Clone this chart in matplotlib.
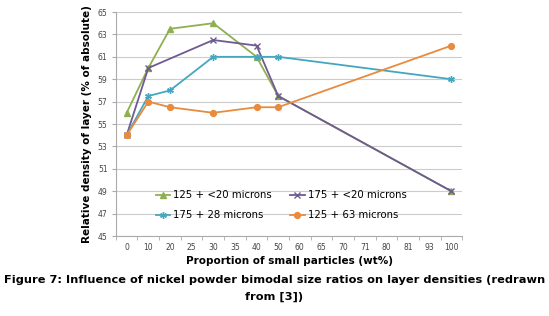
import matplotlib.pyplot as plt
import numpy as np
from matplotlib.ticker import FixedLocator

# category axis (Excel style line chart, gaps are bridged)
categories = ['0', '10', '20', '25', '30', '35', '40', '50', '60', '65',
              '70', '71', '80', '81', '93', '100']

# category index of every measured point
green_idx = [0, 1, 2, 4, 6, 7, 15]
green_val = [56, 60, 63.5, 64, 61, 57.5, 49]

purple_idx = [0, 1, 4, 6, 7, 15]
purple_val = [54, 60, 62.5, 62, 57.5, 49]

cyan_idx = [0, 1, 2, 4, 6, 7, 15]
cyan_val = [54, 57.5, 58, 61, 61, 61, 59]

orange_idx = [0, 1, 2, 4, 6, 7, 15]
orange_val = [54, 57, 56.5, 56, 56.5, 56.5, 62]

labels = ['125 + <20 microns', '175 + <20 microns', '175 + 28 microns', '125 + 63 microns']
colors = ['#8fb050', '#6f5a93', '#45a7bf', '#e88b3e']

fig = plt.figure(figsize=(5.49, 3.16), dpi=100)
ax = fig.add_axes([0.211, 0.253, 0.631, 0.709])

ax.plot(green_idx, green_val, color=colors[0], marker='^', ms=4.2, lw=1.3, label=labels[0])
ax.plot(purple_idx, purple_val, color=colors[1], marker='x', ms=4.2, mew=1.0, lw=1.3, label=labels[1])
ax.plot(cyan_idx, cyan_val, color=colors[2], marker=(6, 2, 0), ms=4.8, mew=1.0, lw=1.3, label=labels[2])
ax.plot(orange_idx, orange_val, color=colors[3], marker='o', ms=4.2, lw=1.3, label=labels[3])

ax.set_xlim(-0.5, len(categories) - 0.5)
ax.set_ylim(45, 65)
ax.set_yticks(np.arange(45, 66, 2))
ax.set_xticks(range(len(categories)))
ax.set_xticklabels(categories)
ax.xaxis.set_minor_locator(FixedLocator(np.arange(-0.5, len(categories), 1)))
ax.tick_params(axis='x', which='major', length=0, labelsize=5.5, labelcolor='#444444', pad=5)
ax.tick_params(axis='x', which='minor', length=3, color='#aaaaaa', direction='out')
ax.tick_params(axis='y', length=3, color='#aaaaaa', labelsize=5.5, labelcolor='#444444', pad=3)

ax.grid(axis='y', color='#cccccc', lw=0.8)
ax.set_axisbelow(True)
for s in ['top', 'right']:
    ax.spines[s].set_visible(False)
for s in ['left', 'bottom']:
    ax.spines[s].set_color('#aaaaaa')
    ax.spines[s].set_linewidth(0.8)

ax.set_xlabel('Proportion of small particles (wt%)', fontsize=7.5, fontweight='bold', labelpad=3)
ax.set_ylabel('Relative density of layer (% of absolute)', fontsize=7.5, fontweight='bold', labelpad=4)

h, l = ax.get_legend_handles_labels()
order = [0, 2, 1, 3]
ax.legend([h[i] for i in order], [l[i] for i in order], ncol=2, frameon=False, fontsize=7.3,
          loc='lower left', bbox_to_anchor=(0.09, 0.03),
          handlelength=1.4, columnspacing=1.8, labelspacing=1.0, handletextpad=0.3)

fig.text(0.5, 0.115, 'Figure 7: Influence of nickel powder bimodal size ratios on layer densities (redrawn',
         ha='center', va='center', fontsize=8.2, fontweight='bold')
fig.text(0.5, 0.06, 'from [3])', ha='center', va='center', fontsize=8.2, fontweight='bold')

fig.savefig('out.png', dpi=100)
